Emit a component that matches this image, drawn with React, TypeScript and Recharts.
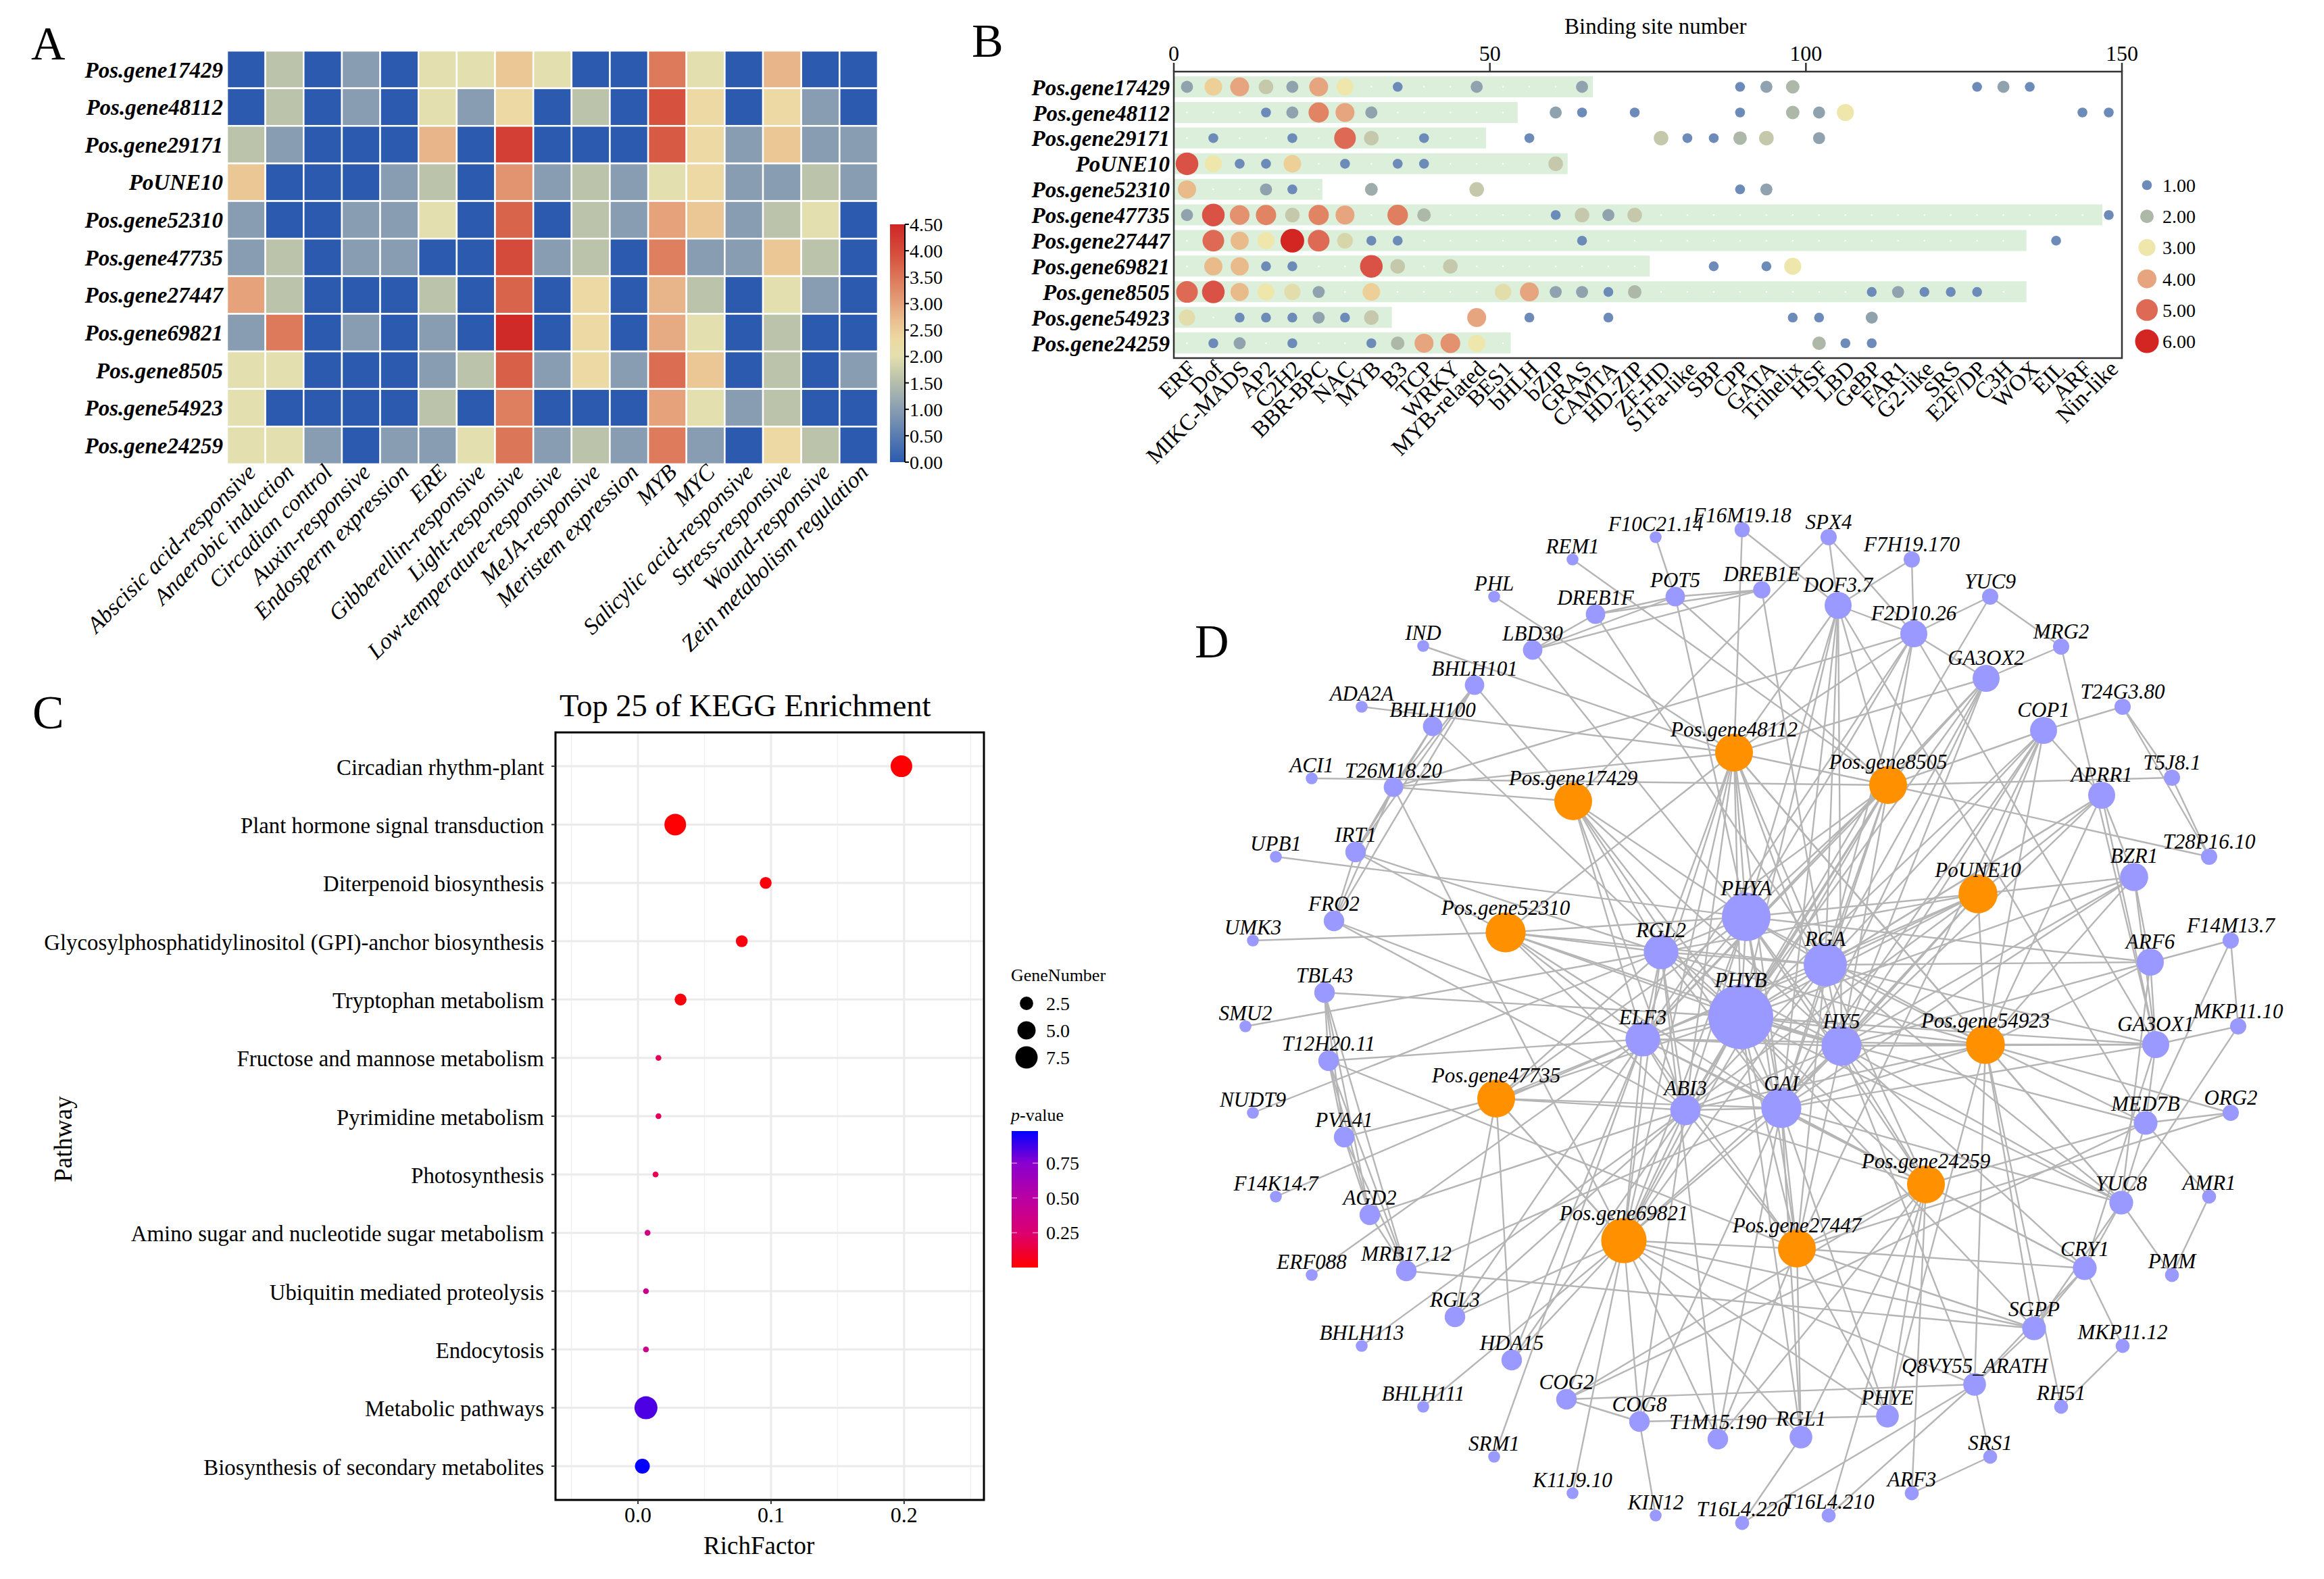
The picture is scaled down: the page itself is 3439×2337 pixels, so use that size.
import React from 'react';
import {
    BarChart,
    Bar,
    ScatterChart,
    Scatter,
    XAxis,
    YAxis,
    CartesianGrid,
    ReferenceArea,
    ReferenceLine,
} from 'recharts';

const serif = '"Liberation Serif", "Times New Roman", serif';

// ---- panel A
const heatGenes = ['Pos.gene17429', 'Pos.gene48112', 'Pos.gene29171', 'PoUNE10', 'Pos.gene52310', 'Pos.gene47735', 'Pos.gene27447', 'Pos.gene69821', 'Pos.gene8505', 'Pos.gene54923', 'Pos.gene24259'];
const heatMotifs = ['Abscisic acid-responsive', 'Anaerobic induction', 'Circadian control', 'Auxin-responsive', 'Endosperm expression', 'ERE', 'Gibberellin-responsive', 'Light-responsive', 'Low-temperature-responsive', 'MeJA-responsive', 'Meristem expression', 'MYB', 'MYC', 'Salicylic acid-responsive', 'Stress-responsive', 'Wound-responsive', 'Zein metabolism regulation'];
const heatValues = [
    [0, 1.58, 0, 1, 0, 2, 2, 2.58, 2, 0, 0, 3.46, 2, 0, 2.8, 0, 0],
    [0, 1.58, 0, 1, 0, 2, 1, 2.32, 0, 1.58, 0, 3.9, 2.32, 0, 2.32, 1, 0],
    [1.58, 1, 0, 0, 0, 2.8, 0, 4.17, 0, 0, 0, 3.81, 2.32, 1, 2.58, 1, 1],
    [2.58, 0, 0, 0, 1, 1.58, 0, 3.17, 1, 1.58, 1, 2, 2.32, 1, 1, 1.58, 1],
    [1, 0, 0, 1, 1, 2, 0, 3.7, 0, 1.58, 1, 3, 2.58, 1, 1.58, 2, 0],
    [1, 1.58, 0, 1, 1, 0, 0, 4, 1, 1.58, 0, 3.4, 1, 1, 2.58, 1.58, 0],
    [3, 1.58, 0, 0, 0, 1.58, 0, 3.7, 0, 2.32, 0, 2.8, 1.58, 0, 2, 1, 0],
    [1, 3.46, 0, 1, 0, 1, 0, 4.46, 0, 2.32, 0, 2.9, 2, 0, 1.58, 0, 0],
    [2, 2, 0, 0, 0, 1, 1.58, 3.75, 1, 2.32, 1, 3.6, 2.58, 0, 1.58, 0, 1],
    [2, 0, 0, 0, 0, 1.58, 0, 3.4, 0, 0, 0, 3, 2, 1, 1.58, 0, 0],
    [2, 2, 1, 0, 1, 1, 2, 3.5, 1, 1.58, 1, 3.45, 1, 0, 2.32, 1.58, 0],
];
const heatScaleTicks = [0, 0.5, 1, 1.5, 2, 2.5, 3, 3.5, 4, 4.5];
const heatStops: [number, string][] = [[0, '#2b5aaf'], [1, '#889db2'], [1.58, '#bcc3ab'], [2, '#e3dfae'], [2.32, '#edd9a3'], [2.58, '#ebc795'], [2.8, '#e8b48a'], [3, '#e5a27b'], [3.46, '#dd7a5b'], [3.9, '#d6523f'], [4.5, '#cf2726']];

// ---- panel B
const siteGenes = heatGenes;
const siteTotals = [66.3, 54.4, 49.4, 62.3, 23.5, 146.9, 134.9, 75.3, 134.9, 34.5, 53.3];
const siteFamilies = ['ERF', 'Dof', 'MIKC-MADS', 'AP2', 'C2H2', 'BBR-BPC', 'NAC', 'MYB', 'B3', 'TCP', 'WRKY', 'MYB-related', 'BES1', 'bHLH', 'bZIP', 'GRAS', 'CAMTA', 'HD-ZIP', 'ZF-HD', 'S1Fa-like', 'SBP', 'CPP', 'GATA', 'Trihelix', 'HSF', 'LBD', 'GeBP', 'FAR1', 'G2-like', 'SRS', 'E2F/DP', 'C3H', 'WOX', 'EIL', 'ARF', 'Nin-like'];
// [family index, value] for every non zero family of a gene
const siteHits: [number, number][][] = [
    [[0, 1.6], [1, 3.3], [2, 4], [3, 2.3], [4, 1.6], [5, 4], [6, 3], [8, 1], [11, 1.6], [15, 1.6], [21, 1], [22, 1.6], [23, 2], [30, 1], [31, 1.6], [32, 1]],
    [[3, 1], [4, 1.6], [5, 4.5], [6, 4], [7, 1.6], [14, 1.6], [15, 1], [17, 1], [21, 1], [23, 2], [24, 1.6], [25, 3], [34, 1], [35, 1]],
    [[1, 1], [4, 1], [6, 5], [7, 2.3], [9, 1], [13, 1], [18, 2.3], [19, 1], [20, 1], [21, 2], [22, 2.3], [24, 1.6]],
    [[0, 5.5], [1, 3], [2, 1], [3, 1], [4, 3.3], [6, 1], [8, 1], [9, 1], [14, 2.3]],
    [[0, 3.6], [3, 1.6], [4, 1], [7, 1.8], [11, 2.3], [21, 1], [22, 1.6]],
    [[0, 1.6], [1, 5.5], [2, 4.3], [3, 4.5], [4, 2.3], [5, 4.5], [6, 4], [8, 4.6], [9, 2], [14, 1], [15, 2.3], [16, 1.6], [17, 2.3], [35, 1]],
    [[1, 5], [2, 3.6], [3, 3], [4, 6], [5, 5], [6, 2.6], [7, 1], [8, 1], [15, 1], [33, 1]],
    [[1, 3.6], [2, 3.6], [3, 1], [4, 1], [7, 5.5], [8, 2.3], [10, 2.3], [20, 1], [22, 1], [23, 3]],
    [[0, 5], [1, 5.5], [2, 3.6], [3, 3], [4, 2.8], [5, 1.6], [7, 3.3], [12, 2.8], [13, 4], [14, 1.6], [15, 1.6], [16, 1], [17, 2], [26, 1], [27, 1.6], [28, 1], [29, 1], [30, 1]],
    [[0, 2.8], [2, 1], [3, 1], [4, 1], [5, 1.6], [6, 1], [7, 2.3], [11, 4], [13, 1], [16, 1], [23, 1], [24, 1], [26, 1.6]],
    [[1, 1], [2, 1.6], [4, 1], [7, 1], [8, 2], [9, 4], [10, 4.3], [11, 3], [24, 2], [25, 1], [26, 1]],
];
const siteLegend = [1, 2, 3, 4, 5, 6];
const siteStops: [number, string][] = [[1, '#6d8bb8'], [1.6, '#8fa2ae'], [2, '#adb8a8'], [2.3, '#c5c8aa'], [3, '#efe6ab'], [3.3, '#edcf98'], [3.6, '#e9bb8a'], [4, '#e6a57e'], [4.5, '#e18463'], [5, '#de6a55'], [5.5, '#d95245'], [6, '#d32622']];
const siteRadius: [number, number][] = [[0, 1.2], [1, 7.3], [2, 10], [3, 12.6], [4, 14], [5, 16], [6, 17.5]];

// ---- panel C
const pathways = ['Circadian rhythm-plant', 'Plant hormone signal transduction', 'Diterpenoid biosynthesis', 'Glycosylphosphatidylinositol (GPI)-anchor biosynthesis', 'Tryptophan metabolism', 'Fructose and mannose metabolism', 'Pyrimidine metabolism', 'Photosynthesis', 'Amino sugar and nucleotide sugar metabolism', 'Ubiquitin mediated proteolysis', 'Endocytosis', 'Metabolic pathways', 'Biosynthesis of secondary metabolites'];
const richFactors = [0.198, 0.028, 0.096, 0.078, 0.032, 0.0154, 0.0154, 0.0132, 0.0072, 0.006, 0.006, 0.006, 0.0033];
const geneNumbers = [7, 7, 2, 2, 2, 1, 1, 1, 1, 1, 1, 8, 3];
const pValues = [0.01, 0.01, 0.02, 0.03, 0.03, 0.2, 0.2, 0.18, 0.33, 0.38, 0.38, 0.85, 0.97];
const geneLegend = [2.5, 5, 7.5];
const pTicks = [0.25, 0.5, 0.75];
const pStops: [number, string][] = [[0, '#ff0000'], [0.25, '#dc0070'], [0.5, '#b900a3'], [0.75, '#8a00d0'], [0.98, '#0000ff']];
const geneRadius: [number, number][] = [[1, 4.3], [2, 8.8], [3, 11], [5, 13.5], [7, 16], [8, 17]];

// ---- panel D: [name, layout x, layout y, degree]
const targetNodes: [string, number, number, number][] = [
    ['REM1', 2327, 828, 1], ['F10C21.14', 2450, 795, 1], ['PHL', 2211, 883, 1], ['DREB1F', 2361, 909, 8], ['POT5', 2479, 883, 8],
    ['LBD30', 2268, 962, 8], ['IND', 2106, 956, 1], ['BHLH101', 2182, 1014, 8], ['ADA2A', 2015, 1046, 1], ['BHLH100', 2120, 1075, 8],
    ['ACI1', 1941, 1152, 1], ['T26M18.20', 2062, 1165, 8], ['UPB1', 1888, 1268, 1], ['IRT1', 2006, 1261, 9], ['FRO2', 1974, 1363, 9],
    ['UMK3', 1854, 1392, 1], ['RGL2', 2458, 1409, 22], ['TBL43', 1960, 1469, 9], ['SMU2', 1843, 1519, 1], ['ELF3', 2431, 1538, 22],
    ['PHYB', 2576, 1505, 50], ['PHYA', 2584, 1357, 35], ['F16M19.18', 2578, 784, 4], ['SPX4', 2706, 795, 5], ['F7H19.170', 2829, 828, 5],
    ['DREB1E', 2607, 873, 6], ['DOF3.7', 2720, 896, 15], ['YUC9', 2945, 883, 5], ['F2D10.26', 2832, 938, 15], ['MRG2', 3050, 957, 5],
    ['GA3OX2', 2939, 1004, 15], ['T24G3.80', 3141, 1046, 5], ['COP1', 3024, 1081, 15], ['T5J8.1', 3214, 1151, 5], ['APRR1', 3110, 1177, 15],
    ['T28P16.10', 3269, 1268, 5], ['BZR1', 3158, 1298, 16], ['F14M13.7', 3301, 1392, 5], ['ARF6', 3182, 1424, 15], ['RGA', 2701, 1428, 30],
    ['HY5', 2725, 1548, 27], ['GA3OX1', 3190, 1546, 15], ['MKP11.10', 3312, 1519, 5], ['GAI', 2636, 1640, 27], ['MED7B', 3175, 1662, 12],
    ['ORG2', 3301, 1647, 5], ['YUC8', 3139, 1780, 12], ['AMR1', 3269, 1771, 3], ['CRY1', 3085, 1877, 12], ['PMM', 3214, 1887, 3],
    ['SGPP', 3010, 1966, 12], ['MKP11.12', 3141, 1992, 3], ['Q8VY55_ARATH', 2922, 2049, 11], ['RH51', 3050, 2082, 3], ['PHYE', 2793, 2096, 11],
    ['RGL1', 2665, 2127, 11], ['SRS1', 2945, 2156, 3], ['ARF3', 2829, 2210, 3], ['T16L4.210', 2706, 2243, 3], ['T16L4.220', 2578, 2254, 3],
    ['T12H20.11', 1966, 1570, 9], ['NUDT9', 1854, 1647, 1], ['PVA41', 1989, 1683, 9], ['ABI3', 2494, 1643, 18], ['F14K14.7', 1888, 1771, 1],
    ['AGD2', 2027, 1798, 9], ['MRB17.12', 2081, 1881, 9], ['ERF088', 1941, 1887, 1], ['RGL3', 2153, 1949, 9], ['BHLH113', 2015, 1992, 1],
    ['HDA15', 2237, 2013, 9], ['COG2', 2318, 2071, 9], ['BHLH111', 2106, 2082, 1], ['COG8', 2426, 2104, 9], ['T1M15.190', 2542, 2130, 9],
    ['SRM1', 2211, 2156, 1], ['K11J9.10', 2327, 2210, 1], ['KIN12', 2450, 2243, 1],
];
const geneNodes: [string, number, number, number][] = [
    ['Pos.gene17429', 2328, 1186, 25], ['Pos.gene48112', 2566, 1114, 25], ['Pos.gene8505', 2794, 1162, 25], ['Pos.gene52310', 2228, 1380, 27],
    ['PoUNE10', 2927, 1323, 26], ['Pos.gene54923', 2938, 1546, 26], ['Pos.gene47735', 2214, 1626, 25], ['Pos.gene24259', 2850, 1753, 25],
    ['Pos.gene27447', 2659, 1848, 25], ['Pos.gene69821', 2403, 1836, 32],
];
const links: [string, string[]][] = [
    ['REM1', ['Pos.gene8505']],
    ['PHL', ['Pos.gene48112']],
    ['IND', ['Pos.gene48112']],
    ['ADA2A', ['Pos.gene48112']],
    ['ACI1', ['Pos.gene8505']],
    ['F10C21.14', ['POT5']],
    ['T26M18.20', ['Pos.gene17429', 'F2D10.26', 'Pos.gene48112', 'BHLH101', 'BHLH100', 'IRT1', 'FRO2', 'Pos.gene69821']],
    ['BHLH101', ['FRO2', 'IRT1', 'Pos.gene17429']],
    ['BHLH100', ['IRT1', 'PHYB']],
    ['UPB1', ['PHYA']],
    ['IRT1', ['RGL2', 'Pos.gene52310', 'FRO2']],
    ['FRO2', ['ABI3', 'ELF3']],
    ['UMK3', ['Pos.gene52310']],
    ['TBL43', ['PHYB', 'T12H20.11', 'PVA41', 'AGD2', 'MRB17.12']],
    ['SMU2', ['RGL2']],
    ['T12H20.11', ['ELF3', 'Pos.gene27447', 'PVA41', 'AGD2', 'MRB17.12']],
    ['NUDT9', ['RGL2']],
    ['PVA41', ['Pos.gene47735', 'AGD2', 'MRB17.12']],
    ['F14K14.7', ['ELF3']],
    ['AGD2', ['ABI3', 'MRB17.12']],
    ['MRB17.12', ['SGPP', 'GAI']],
    ['ERF088', ['ELF3']],
    ['RGL3', ['Pos.gene47735', 'Pos.gene69821', 'ELF3', 'ABI3']],
    ['BHLH113', ['ABI3']],
    ['HDA15', ['Pos.gene47735', 'Pos.gene69821', 'ABI3', 'ELF3']],
    ['BHLH111', ['Pos.gene69821']],
    ['SRM1', ['ELF3']],
    ['K11J9.10', ['Pos.gene69821']],
    ['KIN12', ['COG8']],
    ['COG2', ['COG8', 'Pos.gene69821', 'Q8VY55_ARATH', 'Pos.gene24259']],
    ['COG8', ['Pos.gene69821', 'PHYE', 'ABI3', 'GAI']],
    ['T1M15.190', ['Pos.gene69821', 'GAI', 'Pos.gene27447', 'Pos.gene24259', 'RGL2']],
    ['T16L4.220', ['RGL1', 'Q8VY55_ARATH']],
    ['T16L4.210', ['Q8VY55_ARATH', 'Pos.gene24259']],
    ['ARF3', ['SRS1', 'Pos.gene24259']],
    ['SRS1', ['Q8VY55_ARATH']],
    ['RH51', ['Pos.gene54923', 'MKP11.12']],
    ['MKP11.12', ['CRY1']],
    ['PMM', ['AMR1', 'YUC8']],
    ['AMR1', ['MED7B']],
    ['CRY1', ['Pos.gene24259', 'Pos.gene27447', 'YUC8', 'SGPP', 'GA3OX1', 'GAI', 'HY5', 'Q8VY55_ARATH']],
    ['SGPP', ['Pos.gene69821', 'Pos.gene27447', 'Q8VY55_ARATH', 'YUC8', 'Pos.gene54923', 'PHYB']],
    ['Q8VY55_ARATH', ['HY5', 'Pos.gene54923', 'Pos.gene69821']],
    ['PHYE', ['Pos.gene27447', 'Pos.gene24259', 'GAI', 'Pos.gene54923', 'Pos.gene69821']],
    ['RGL1', ['Pos.gene27447', 'Pos.gene24259', 'GAI', 'PHYB', 'Pos.gene47735']],
    ['YUC8', ['GAI', 'RGA', 'PHYB', 'HY5', 'MED7B', 'Pos.gene54923', 'Pos.gene48112']],
    ['MED7B', ['ORG2', 'Pos.gene24259', 'GA3OX1', 'Pos.gene54923', 'PHYB', 'COG2', 'DOF3.7']],
    ['ORG2', ['Pos.gene54923', 'Pos.gene27447']],
    ['GA3OX1', ['Pos.gene54923', 'RGA', 'HY5', 'PHYB', 'GAI', 'MKP11.10', 'ARF6', 'BZR1']],
    ['MKP11.10', ['F14M13.7', 'YUC8']],
    ['F14M13.7', ['ARF6', 'MED7B']],
    ['ARF6', ['RGA', 'HY5', 'Pos.gene54923', 'BZR1', 'PHYA', 'YUC8']],
    ['BZR1', ['PoUNE10', 'GAI', 'Pos.gene54923', 'HY5', 'PHYB']],
    ['T28P16.10', ['T5J8.1', 'T24G3.80', 'Pos.gene8505']],
    ['T5J8.1', ['T24G3.80', 'Pos.gene8505']],
    ['T24G3.80', ['COP1']],
    ['COP1', ['APRR1', 'Pos.gene8505', 'RGA', 'HY5', 'Pos.gene54923', 'Pos.gene27447', 'GAI', 'PHYB', 'PoUNE10']],
    ['APRR1', ['PoUNE10', 'RGA', 'PHYB', 'Pos.gene54923', 'GA3OX1', 'HY5', 'BZR1']],
    ['MRG2', ['YUC9', 'GA3OX2', 'GA3OX1']],
    ['YUC9', ['F2D10.26', 'PHYB']],
    ['GA3OX2', ['F2D10.26', 'Pos.gene8505', 'RGA', 'HY5', 'GAI', 'ELF3', 'PHYB', 'Pos.gene48112']],
    ['F2D10.26', ['DOF3.7', 'F7H19.170', 'Pos.gene8505', 'Pos.gene48112', 'PHYA', 'GA3OX1', 'ELF3', 'RGA']],
    ['F7H19.170', ['DOF3.7']],
    ['DOF3.7', ['F16M19.18', 'SPX4', 'Pos.gene8505', 'Pos.gene48112', 'PHYA', 'RGA', 'PHYB', 'HY5', 'GAI']],
    ['SPX4', ['F2D10.26', 'Pos.gene17429']],
    ['F16M19.18', ['Pos.gene48112']],
    ['POT5', ['DREB1F', 'LBD30', 'DREB1E', 'Pos.gene8505', 'PHYA']],
    ['DREB1F', ['LBD30', 'DREB1E', 'RGA']],
    ['LBD30', ['DREB1E', 'PHYA']],
    ['DREB1E', ['RGA']],
    ['Pos.gene17429', ['ELF3', 'GAI', 'RGL2', 'PHYA', 'PHYB', 'HY5', 'ABI3']],
    ['Pos.gene52310', ['RGL2', 'PHYA', 'PHYB', 'ELF3', 'ABI3', 'GAI', 'HY5', 'Pos.gene48112', 'RGA']],
    ['Pos.gene47735', ['ELF3', 'RGL2', 'PHYB', 'ABI3', 'GAI', 'Pos.gene69821', 'PHYA']],
    ['Pos.gene69821', ['ELF3', 'ABI3', 'RGL2', 'PHYB', 'GAI', 'HY5', 'RGA', 'PHYA', 'Pos.gene27447']],
    ['Pos.gene27447', ['GAI', 'PHYB', 'ELF3', 'HY5', 'RGA', 'Pos.gene24259', 'ABI3', 'PHYA']],
    ['Pos.gene24259', ['GAI', 'HY5', 'RGA', 'PHYB', 'PHYA', 'ABI3', 'ELF3']],
    ['Pos.gene54923', ['HY5', 'RGA', 'GAI', 'PHYB', 'PHYA', 'ELF3', 'ABI3', 'RGL2']],
    ['PoUNE10', ['PHYA', 'RGA', 'PHYB', 'HY5', 'GAI', 'ELF3', 'Pos.gene54923', 'RGL2', 'ABI3']],
    ['Pos.gene8505', ['PHYA', 'RGA', 'PHYB', 'HY5', 'GAI', 'ELF3', 'RGL2', 'ABI3', 'Pos.gene69821', 'Pos.gene48112']],
    ['Pos.gene48112', ['ELF3', 'RGL2', 'PHYA', 'PHYB', 'ABI3', 'GAI', 'HY5', 'RGA', 'Pos.gene54923', 'Pos.gene69821']],
    ['PHYB', ['PHYA', 'RGA', 'HY5', 'GAI', 'ELF3', 'ABI3', 'RGL2']],
    ['PHYA', ['RGA', 'GAI', 'HY5', 'ELF3', 'RGL2', 'ABI3']],
    ['RGA', ['GAI', 'HY5', 'ELF3', 'RGL2', 'ABI3']],
    ['GAI', ['HY5', 'ELF3', 'RGL2', 'ABI3']],
    ['HY5', ['ELF3', 'ABI3', 'RGL2']],
    ['ELF3', ['RGL2', 'ABI3']],
    ['RGL2', ['ABI3']],
];

const lerp = (stops: [number, number][], v: number) => {
    for (let i = 1; i < stops.length; i++) {
        if (v <= stops[i][0]) {
            const t = (v - stops[i - 1][0]) / (stops[i][0] - stops[i - 1][0]);
            return stops[i - 1][1] + t * (stops[i][1] - stops[i - 1][1]);
        }
    }
    return stops[stops.length - 1][1];
};
const mix = (stops: [number, string][], v: number) => {
    const hex = (s: string, i: number) => parseInt(s.slice(1 + i * 2, 3 + i * 2), 16);
    let a = stops[0], b = stops[0];
    for (let i = 1; i < stops.length; i++) {
        a = stops[i - 1];
        b = stops[i];
        if (v <= b[0]) break;
    }
    const t = Math.max(0, Math.min(1, (v - a[0]) / (b[0] - a[0])));
    const c = [0, 1, 2].map((i) => Math.round(hex(a[1], i) + t * (hex(b[1], i) - hex(a[1], i))));
    return `rgb(${c[0]},${c[1]},${c[2]})`;
};
const centers = (n: number) => Array.from({ length: n }, (_, i) => i + 0.5);

const heatCells = heatValues.flatMap((vals, row) => vals.map((v, col) => ({ col: col + 0.5, row: row + 0.5, v })));
const siteDots = siteHits.flatMap((hits, row) =>
    siteFamilies.map((_, fam) => {
        const hit = hits.find((h) => h[0] === fam);
        return { fam: fam + 0.5, row, v: hit ? hit[1] : 0 };
    }),
);
const siteBars = siteGenes.map((gene, i) => ({ gene, total: siteTotals[i] }));
const keggPoints = pathways.map((name, i) => ({ name, idx: i + 1, rich: richFactors[i], gene: geneNumbers[i], p: pValues[i] }));

const toNode = ([name, x, y, degree]: [string, number, number, number]) => ({ name, x, y, degree });
const allNodes = [...targetNodes.map(toNode), ...geneNodes.map(toNode)];
const nodeOf = (name: string) => allNodes.find((n) => n.name === name);
const edges = links.flatMap(([from, tos]) => tos.map((to) => [nodeOf(from), nodeOf(to)]).filter((e) => e[0] && e[1]));
const nodeRadius = (degree: number) => 8 + degree * 0.8;

const black = '#000';
const Nothing = () => <g />;

const GradientBar = ({ id, stops, max }: { id: string; stops: [number, string][]; max: number }) => (
    <defs>
        <linearGradient id={id} x1="0" y1="1" x2="0" y2="0">
            {stops.map(([v, c]) => (
                <stop key={v} offset={`${(v / max) * 100}%`} stopColor={c} />
            ))}
        </linearGradient>
    </defs>
);

const slanted = (labels: string[], dx: number, dy: number, fontSize: number, fontStyle: string) => (props: any) => {
    const { x, y, payload } = props;
    const label = labels[Math.floor(payload.value)];
    return (
        <text transform={`translate(${x + dx},${y + dy}) rotate(-45)`} textAnchor="end" fontFamily={serif} fontSize={fontSize} fontStyle={fontStyle} fill={black}>
            {label}
        </text>
    );
};

const Letter = ({ x, y, children }: { x: number; y: number; children: string }) => (
    <div style={{ position: 'absolute', left: x, top: y, fontFamily: serif, fontSize: 70, lineHeight: '70px', color: black }}>{children}</div>
);
const At = ({ x, y, children }: { x: number; y: number; children: React.ReactNode }) => (
    <div style={{ position: 'absolute', left: x, top: y }}>{children}</div>
);
const Caption = ({ x, y, size, children }: { x: number; y: number; size: number; children: React.ReactNode }) => (
    <div style={{ position: 'absolute', left: x, top: y, fontFamily: serif, fontSize: size, lineHeight: `${size}px`, color: black, whiteSpace: 'nowrap' }}>{children}</div>
);

const HeatCell = (props: any) => {
    const { cx, cy, payload } = props;
    const w = 963 / 17;
    const h = 611 / 11;
    return <rect x={cx - w / 2} y={cy - h / 2} width={w} height={h} fill={mix(heatStops, payload.v)} stroke="#fff" strokeWidth={2.5} />;
};
const SiteDot = (props: any) => {
    const { cx, cy, payload } = props;
    if (payload.v === 0) return <circle cx={cx} cy={cy} r={1.2} fill="#fff" />;
    return <circle cx={cx} cy={cy} r={lerp(siteRadius, payload.v)} fill={mix(siteStops, payload.v)} />;
};
const SiteLegendDot = (props: any) => {
    const { cx, cy, payload } = props;
    return (
        <g>
            <circle cx={cx} cy={cy} r={lerp(siteRadius, payload.level)} fill={mix(siteStops, payload.level)} />
            <text x={cx + 23} y={cy + 10} fontFamily={serif} fontSize={28} fill={black}>
                {payload.level.toFixed(2)}
            </text>
        </g>
    );
};
const KeggDot = (props: any) => {
    const { cx, cy, payload } = props;
    return <circle cx={cx} cy={cy} r={lerp(geneRadius, payload.gene)} fill={mix(pStops, payload.p)} />;
};
const GeneLegendDot = (props: any) => {
    const { cx, cy, payload } = props;
    return (
        <g>
            <circle cx={cx} cy={cy} r={lerp(geneRadius, payload.gene)} fill={black} />
            <text x={cx + 29} y={cy + 10} fontFamily={serif} fontSize={28} fill={black}>
                {payload.gene.toFixed(1)}
            </text>
        </g>
    );
};
const NodeDot = (fill: string) => (props: any) => {
    const { cx, cy, payload } = props;
    return <circle cx={cx} cy={cy} r={nodeRadius(payload.degree)} fill={fill} />;
};
const NodeLabel = (props: any) => {
    const { cx, cy, payload } = props;
    const r = nodeRadius(payload.degree);
    return (
        <text x={cx} y={cy - r + (r > 25 ? 4 : 0)} textAnchor="middle" fontFamily={serif} fontStyle="italic" fontSize={31} fill={black}>
            {payload.name}
        </text>
    );
};

const App = () => {
    const tickSerif = { fontFamily: serif, fill: black };
    const boldLabel = { ...tickSerif, fontSize: 33, fontStyle: 'italic', fontWeight: 700 };
    return (
        <div style={{ position: 'absolute', left: 0, top: 0, width: 3439, height: 2337, background: '#fff', overflow: 'hidden' }}>
            {/* D network */}
            <At x={0} y={0}>
                <ScatterChart width={3439} height={2337} margin={{ top: 0, right: 0, bottom: 0, left: 0 }}>
                    <XAxis type="number" dataKey="x" domain={[0, 3439]} hide />
                    <YAxis type="number" dataKey="y" domain={[0, 2337]} reversed hide />
                    {edges.map((e, i) => (
                        <Scatter key={i} data={e as any[]} line={{ stroke: '#b5b5b5', strokeWidth: 2.4 }} shape={Nothing} isAnimationActive={false} />
                    ))}
                    <Scatter data={targetNodes.map(toNode)} shape={NodeDot('#9999ff')} isAnimationActive={false} />
                    <Scatter data={geneNodes.map(toNode)} shape={NodeDot('#ff9000')} isAnimationActive={false} />
                    <Scatter data={allNodes} shape={NodeLabel} isAnimationActive={false} />
                </ScatterChart>
            </At>

            {/* A heatmap */}
            <At x={0} y={0}>
                <ScatterChart width={1299} height={1000} margin={{ top: 75, right: 0, bottom: 0, left: 0 }}>
                    <XAxis
                        type="number"
                        dataKey="col"
                        domain={[0, 17]}
                        ticks={centers(17)}
                        interval={0}
                        height={313}
                        axisLine={false}
                        tickLine={false}
                        tick={slanted(heatMotifs, 16, 6, 34, 'italic')}
                    />
                    <YAxis
                        type="number"
                        dataKey="row"
                        domain={[0, 11]}
                        reversed
                        ticks={centers(11)}
                        interval={0}
                        width={336}
                        axisLine={false}
                        tickLine={false}
                        tickMargin={0}
                        tick={boldLabel}
                        tickFormatter={(v: number) => heatGenes[Math.floor(v)]}
                    />
                    <Scatter data={heatCells} shape={HeatCell} isAnimationActive={false} />
                </ScatterChart>
            </At>
            <At x={1317} y={322}>
                <BarChart width={110} height={372} data={[{ name: 'v', v: 4.5 }]} margin={{ top: 10, right: 0, bottom: 10, left: 0 }} barCategoryGap={0}>
                    <GradientBar id="heatBar" stops={heatStops} max={4.5} />
                    <XAxis dataKey="name" hide />
                    <YAxis
                        orientation="right"
                        domain={[0, 4.5]}
                        ticks={heatScaleTicks}
                        interval={0}
                        width={88}
                        tickSize={6}
                        tickMargin={1}
                        axisLine={{ stroke: black, strokeWidth: 2 }}
                        tickLine={{ stroke: black, strokeWidth: 2 }}
                        tick={{ ...tickSerif, fontSize: 28 }}
                        tickFormatter={(v: number) => v.toFixed(2)}
                    />
                    <Bar dataKey="v" fill="url(#heatBar)" isAnimationActive={false} />
                </BarChart>
            </At>

            {/* B binding sites */}
            <At x={1420} y={0}>
                <BarChart
                    layout="vertical"
                    width={1760}
                    height={534}
                    data={siteBars}
                    margin={{ top: 0, right: 40, bottom: 4, left: 0 }}
                    barSize={31}
                >
                    <XAxis
                        type="number"
                        orientation="top"
                        domain={[0, 150]}
                        ticks={[0, 50, 100, 150]}
                        interval={0}
                        height={106}
                        tickSize={13}
                        tickMargin={3}
                        axisLine={false}
                        tickLine={{ stroke: '#333', strokeWidth: 2.5 }}
                        tick={{ ...tickSerif, fontSize: 32 }}
                    />
                    <YAxis
                        type="category"
                        dataKey="gene"
                        width={317}
                        padding={{ top: 4, bottom: 3 }}
                        interval={0}
                        axisLine={false}
                        tickLine={false}
                        tickMargin={0}
                        tick={boldLabel}
                    />
                    <Bar dataKey="total" fill="#dbefdb" isAnimationActive={false} />
                </BarChart>
            </At>
            <At x={1420} y={0}>
                <ScatterChart width={1760} height={760} margin={{ top: 106, right: 40, bottom: 0, left: 317 }}>
                    <XAxis
                        type="number"
                        dataKey="fam"
                        domain={[0, 36]}
                        ticks={centers(36)}
                        interval={0}
                        height={230}
                        axisLine={false}
                        tickLine={false}
                        tick={slanted(siteFamilies, 16, 10, 34, 'normal')}
                    />
                    <YAxis type="number" dataKey="row" domain={[-0.594, 10.58]} reversed hide />
                    <ReferenceArea x1={0} x2={36} y1={-0.594} y2={10.58} fill="none" stroke="#333" strokeWidth={2.5} ifOverflow="visible" />
                    <Scatter data={siteDots} shape={SiteDot} isAnimationActive={false} />
                </ScatterChart>
            </At>
            <Caption x={2315} y={23} size={33}>Binding site number</Caption>
            <At x={3150} y={250}>
                <ScatterChart width={130} height={280} margin={{ top: 0, right: 0, bottom: 0, left: 0 }}>
                    <XAxis type="number" dataKey="x" domain={[-27, 103]} hide />
                    <YAxis type="number" dataKey="level" domain={[0.48, 6.54]} reversed hide />
                    <Scatter data={siteLegend.map((level) => ({ level, x: 0 }))} shape={SiteLegendDot} isAnimationActive={false} />
                </ScatterChart>
            </At>

            {/* C enrichment */}
            <At x={0} y={1000}>
                <ScatterChart width={1460} height={1337} margin={{ top: 84, right: 4, bottom: 37, left: 0 }}>
                    <CartesianGrid horizontal={false} verticalValues={[-0.05, 0.05, 0.15, 0.25]} stroke="#f0f0f0" strokeWidth={1.5} />
                    <CartesianGrid horizontalValues={pathways.map((_, i) => i + 1)} verticalValues={[0, 0.1, 0.2]} stroke="#ebebeb" strokeWidth={3} />
                    <XAxis
                        type="number"
                        dataKey="rich"
                        domain={[-0.062, 0.26]}
                        ticks={[0, 0.1, 0.2]}
                        interval={0}
                        height={80}
                        tickSize={6}
                        tickMargin={4}
                        axisLine={false}
                        tickLine={{ stroke: '#333', strokeWidth: 2 }}
                        tick={{ ...tickSerif, fontSize: 32 }}
                        tickFormatter={(v: number) => v.toFixed(1)}
                    />
                    <YAxis
                        type="number"
                        dataKey="idx"
                        domain={[0.42, 13.58]}
                        reversed
                        ticks={pathways.map((_, i) => i + 1)}
                        interval={0}
                        width={822}
                        tickSize={6}
                        tickMargin={11}
                        axisLine={false}
                        tickLine={{ stroke: '#333', strokeWidth: 2 }}
                        tick={{ ...tickSerif, fontSize: 32.8, dy: 1 }}
                        tickFormatter={(v: number) => pathways[v - 1]}
                    />
                    <ReferenceArea x1={-0.062} x2={0.26} y1={0.42} y2={13.58} fill="none" stroke="#000" strokeWidth={3} ifOverflow="visible" />
                    <Scatter data={keggPoints} shape={KeggDot} isAnimationActive={false} />
                </ScatterChart>
            </At>
            <Caption x={828} y={1022} size={46.5}>Top 25 of KEGG Enrichment</Caption>
            <Caption x={1041} y={2269} size={37}>RichFactor</Caption>
            <div style={{ position: 'absolute', left: 93, top: 1686, fontFamily: serif, fontSize: 37, lineHeight: '37px', transform: 'translate(-50%,-50%) rotate(-90deg)' }}>Pathway</div>
            <Caption x={1496} y={1431} size={26}>GeneNumber</Caption>
            <At x={1496} y={1465}>
                <ScatterChart width={110} height={120} margin={{ top: 0, right: 0, bottom: 0, left: 0 }}>
                    <XAxis type="number" dataKey="x" domain={[-23, 87]} hide />
                    <YAxis type="number" dataKey="gene" domain={[1.25, 8.75]} reversed hide />
                    <Scatter data={geneLegend.map((gene) => ({ gene, x: 0 }))} shape={GeneLegendDot} isAnimationActive={false} />
                </ScatterChart>
            </At>
            <Caption x={1496} y={1638} size={26}><i>p</i>-value</Caption>
            <At x={1497} y={1674}>
                <BarChart width={120} height={202} data={[{ name: 'p', v: 0.98 }]} margin={{ top: 0, right: 0, bottom: 0, left: 0 }} barCategoryGap={0}>
                    <GradientBar id="pBar" stops={pStops} max={0.98} />
                    <XAxis dataKey="name" hide />
                    <YAxis
                        orientation="right"
                        domain={[0, 0.98]}
                        ticks={pTicks}
                        interval={0}
                        width={81}
                        tickSize={0}
                        tickMargin={12}
                        axisLine={false}
                        tickLine={false}
                        tick={{ ...tickSerif, fontSize: 28 }}
                        tickFormatter={(v: number) => v.toFixed(2)}
                    />
                    <Bar dataKey="v" fill="url(#pBar)" isAnimationActive={false} />
                    {pTicks.map((t) => (
                        <ReferenceLine key={t} y={t} stroke="#fff" strokeOpacity={0.55} strokeWidth={1.5} strokeDasharray="8 23 8" />
                    ))}
                </BarChart>
            </At>

            <Letter x={46} y={30}>A</Letter>
            <Letter x={1438} y={26}>B</Letter>
            <Letter x={48} y={1020}>C</Letter>
            <Letter x={1768} y={915}>D</Letter>
        </div>
    );
};

export default App;
